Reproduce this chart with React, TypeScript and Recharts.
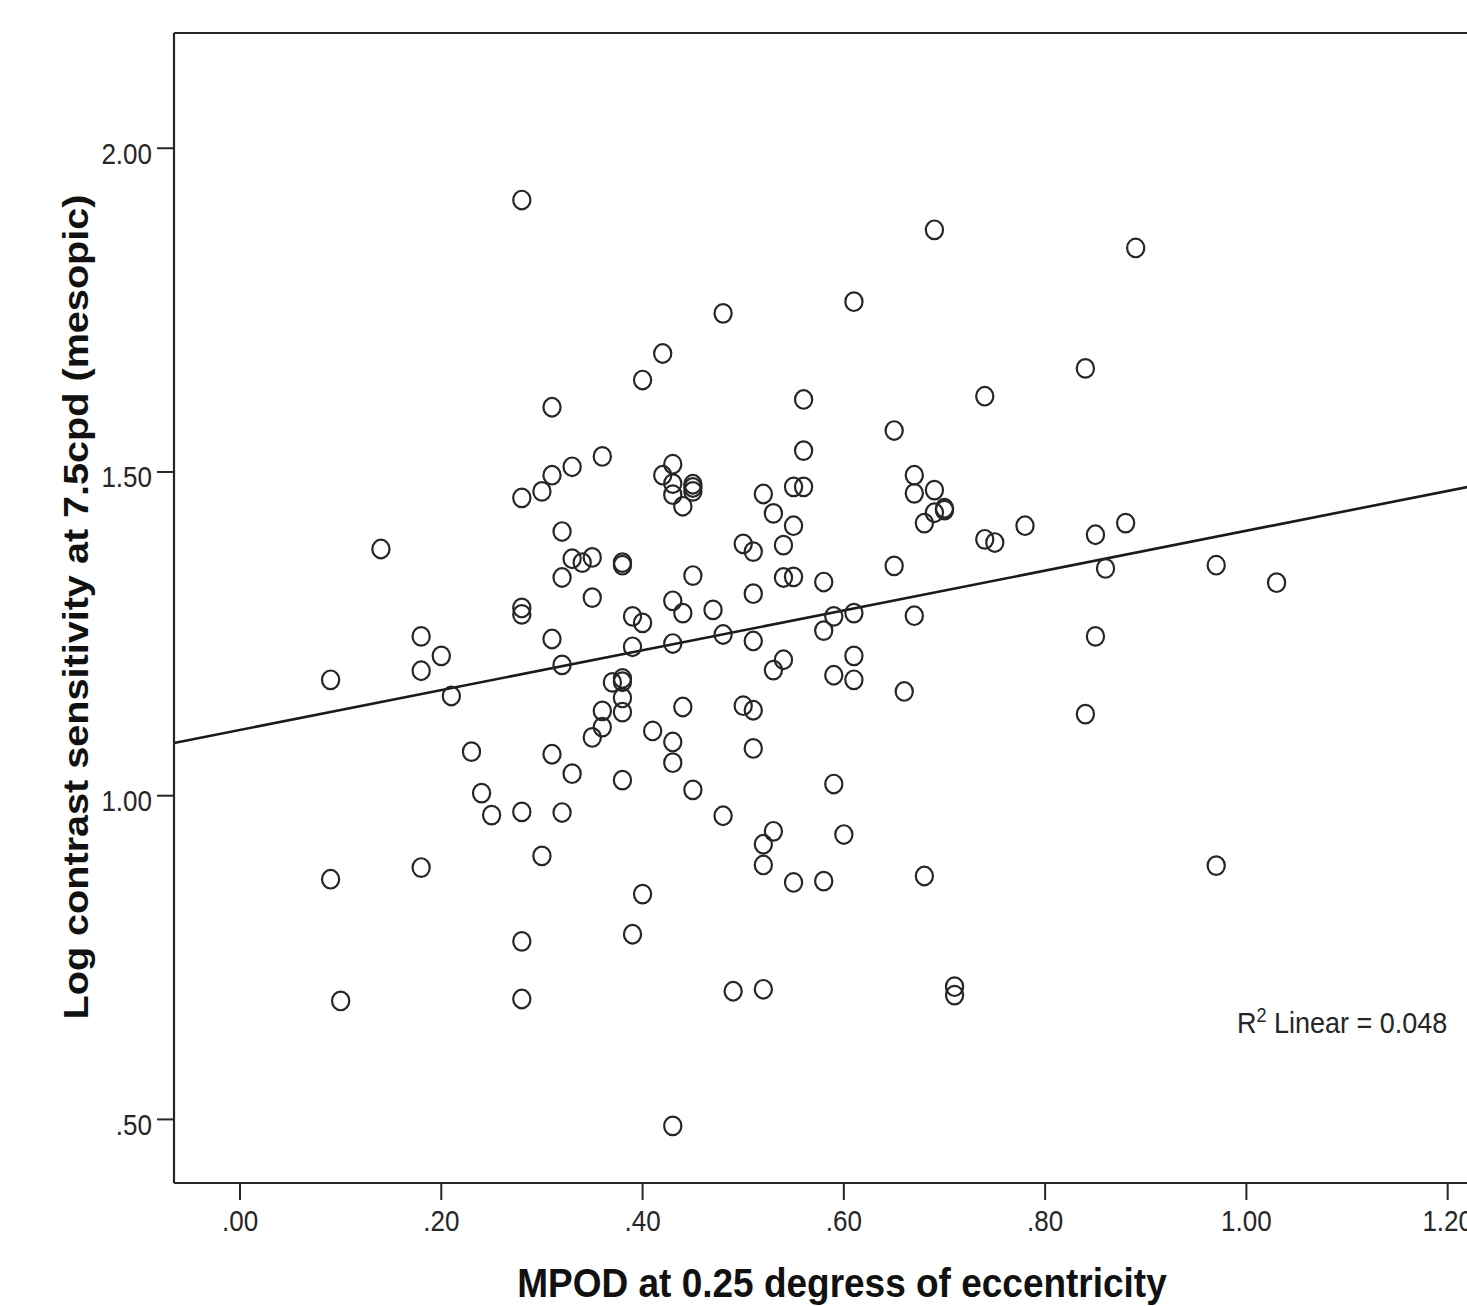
import React from "react";
import { ScatterChart, Scatter, XAxis, YAxis, ReferenceLine, Label } from "recharts";

// MPOD at 0.25 degrees of eccentricity (x) and log contrast sensitivity (y)
const mpod = [
  0.28, 0.69, 0.89, 0.61, 0.48, 0.42, 0.84, 0.40, 0.74, 0.56,
  0.31, 0.65, 0.56, 0.36, 0.33, 0.43, 0.42, 0.31, 0.67, 0.30,
  0.28, 0.43, 0.43, 0.45, 0.45, 0.45, 0.44, 0.52, 0.55, 0.56,
  0.67, 0.69, 0.53, 0.70, 0.70, 0.69, 0.68, 0.55, 0.78, 0.88,
  0.32, 0.85, 0.74, 0.75, 0.50, 0.51, 0.54, 0.14, 0.33, 0.34,
  0.35, 0.38, 0.38, 0.65, 0.86, 0.97, 0.45, 0.32, 0.54, 0.55,
  0.58, 1.03, 0.35, 0.51, 0.43, 0.28, 0.28, 0.47, 0.44, 0.39,
  0.40, 0.59, 0.61, 0.67, 0.58, 0.48, 0.18, 0.85, 0.31, 0.51,
  0.43, 0.39, 0.20, 0.61, 0.54, 0.32, 0.53, 0.18, 0.59, 0.09,
  0.37, 0.38, 0.38, 0.61, 0.66, 0.21, 0.38, 0.44, 0.50, 0.51,
  0.36, 0.38, 0.84, 0.36, 0.41, 0.35, 0.43, 0.51, 0.23, 0.31,
  0.43, 0.33, 0.38, 0.59, 0.45, 0.24, 0.25, 0.28, 0.32, 0.48,
  0.53, 0.60, 0.52, 0.30, 0.52, 0.97, 0.18, 0.09, 0.55, 0.58,
  0.68, 0.40, 0.39, 0.28, 0.49, 0.52, 0.71, 0.71, 0.10, 0.28,
  0.43,
];
const logCS = [
  1.920, 1.874, 1.846, 1.763, 1.745, 1.683, 1.660, 1.642, 1.617, 1.612,
  1.600, 1.564, 1.533, 1.524, 1.508, 1.512, 1.495, 1.495, 1.495, 1.470,
  1.460, 1.482, 1.465, 1.481, 1.476, 1.470, 1.447, 1.466, 1.477, 1.477,
  1.467, 1.472, 1.436, 1.441, 1.444, 1.437, 1.421, 1.417, 1.417, 1.421,
  1.408, 1.403, 1.396, 1.391, 1.389, 1.377, 1.387, 1.381, 1.366, 1.360,
  1.368, 1.360, 1.356, 1.355, 1.351, 1.356, 1.340, 1.337, 1.337, 1.338,
  1.330, 1.329, 1.306, 1.312, 1.301, 1.290, 1.280, 1.287, 1.282, 1.277,
  1.267, 1.277, 1.282, 1.278, 1.255, 1.249, 1.246, 1.246, 1.242, 1.239,
  1.235, 1.230, 1.216, 1.216, 1.210, 1.202, 1.194, 1.193, 1.186, 1.179,
  1.175, 1.181, 1.176, 1.179, 1.161, 1.154, 1.151, 1.137, 1.139, 1.132,
  1.131, 1.129, 1.126, 1.106, 1.100, 1.090, 1.083, 1.073, 1.068, 1.064,
  1.051, 1.034, 1.024, 1.018, 1.009, 1.004, 0.970, 0.975, 0.974, 0.969,
  0.945, 0.940, 0.925, 0.907, 0.893, 0.892, 0.889, 0.871, 0.866, 0.868,
  0.876, 0.848, 0.786, 0.775, 0.698, 0.701, 0.705, 0.692, 0.683, 0.686,
  0.490,
];

const xTicks = [0, 0.2, 0.4, 0.6, 0.8, 1.0, 1.2];
const xTickLabels = [".00", ".20", ".40", ".60", ".80", "1.00", "1.20"];
const yTicks = [0.5, 1.0, 1.5, 2.0];
const yTickLabels = [".50", "1.00", "1.50", "2.00"];

const xTitle = "MPOD at 0.25 degress of eccentricity";
const yTitle = "Log contrast sensitivity at 7.5cpd (mesopic)";
const r2Text = "0.048";

// fit line: y = intercept + slope * x
const fitIntercept = 1.1016;
const fitSlope = 0.3076;

const xDomain: [number, number] = [-0.0656, 1.25];
const yDomain: [number, number] = [0.4018, 2.178];

const data = mpod.map((x, i) => ({ x, y: logCS[i] }));

const FONT = '"Liberation Sans", Arial, Helvetica, sans-serif';
const INK = "#262626";

const XTick = (props: any) => {
  const { x, y, payload } = props;
  const idx = xTicks.indexOf(payload.value);
  return (
    <g transform={`translate(${x},${y}) scale(1,1.1)`}>
      <text x={0} y={0} dy="0.72em" textAnchor="middle" fontFamily={FONT} fontSize={26} fill={INK}>
        {idx >= 0 ? xTickLabels[idx] : payload.value}
      </text>
    </g>
  );
};

const YTick = (props: any) => {
  const { x, y, payload } = props;
  const idx = yTicks.indexOf(payload.value);
  return (
    <g transform={`translate(${x},${y + 5}) scale(1,1.1)`}>
      <text x={0} y={0} dy="0.36em" textAnchor="end" fontFamily={FONT} fontSize={26} fill={INK}>
        {idx >= 0 ? yTickLabels[idx] : payload.value}
      </text>
    </g>
  );
};

const Ring = (props: any) => {
  const { cx, cy } = props;
  if (cx == null || cy == null) return null;
  return <ellipse cx={cx} cy={cy} rx={8.6} ry={9.3} fill="none" stroke={INK} strokeWidth={2.2} />;
};

export default function App() {
  const W = 1498;
  const H = 1306;
  return (
    <div
      style={{
        position: "absolute",
        left: 0,
        top: 0,
        width: 1467,
        height: 1306,
        overflow: "hidden",
        background: "#fff",
      }}
    >
      <ScatterChart width={W} height={H} margin={{ top: 33, right: 0, bottom: 0, left: 0 }}>
        <XAxis
          type="number"
          dataKey="x"
          domain={xDomain}
          allowDataOverflow
          ticks={xTicks}
          tick={<XTick />}
          tickSize={17}
          tickMargin={10}
          height={123}
          axisLine={{ stroke: INK, strokeWidth: 2.2 }}
          tickLine={{ stroke: INK, strokeWidth: 2 }}
        >
          <Label
            content={() => (
              <text
                transform="translate(842,1297) scale(1,1.1)"
                textAnchor="middle"
                fontFamily={FONT}
                fontWeight="bold"
                fontSize={37}
                fill="#111"
              >
                {xTitle}
              </text>
            )}
          />
        </XAxis>
        <YAxis
          type="number"
          dataKey="y"
          domain={yDomain}
          allowDataOverflow
          ticks={yTicks}
          tick={<YTick />}
          tickSize={17}
          tickMargin={5}
          width={174}
          axisLine={{ stroke: INK, strokeWidth: 2.2 }}
          tickLine={{ stroke: INK, strokeWidth: 2 }}
        >
          <Label
            content={() => (
              <text
                transform="translate(76,607) rotate(-90) scale(1.1,1)"
                textAnchor="middle"
                dominantBaseline="central"
                fontFamily={FONT}
                fontWeight="bold"
                fontSize={36}
                fill="#111"
              >
                {yTitle}
              </text>
            )}
          />
        </YAxis>
        <ReferenceLine y={yDomain[1]} stroke={INK} strokeWidth={2.2} />
        <ReferenceLine
          segment={[
            { x: xDomain[0], y: fitIntercept + fitSlope * xDomain[0] },
            { x: xDomain[1], y: fitIntercept + fitSlope * xDomain[1] },
          ]}
          stroke="#1a1a1a"
          strokeWidth={2.6}
        />
        <Scatter data={data} shape={<Ring />} isAnimationActive={false} />
      </ScatterChart>
      <svg
        width={1467}
        height={1306}
        style={{ position: "absolute", left: 0, top: 0, pointerEvents: "none" }}
      >
        <g transform="translate(1237,1033) scale(1,1.1)">
          <text x={0} y={0} fontFamily={FONT} fontSize={27} fill={INK}>
            R
            <tspan fontSize={18} dy={-10}>2</tspan>
            <tspan dy={10}>{` Linear = ${r2Text}`}</tspan>
          </text>
        </g>
      </svg>
    </div>
  );
}
